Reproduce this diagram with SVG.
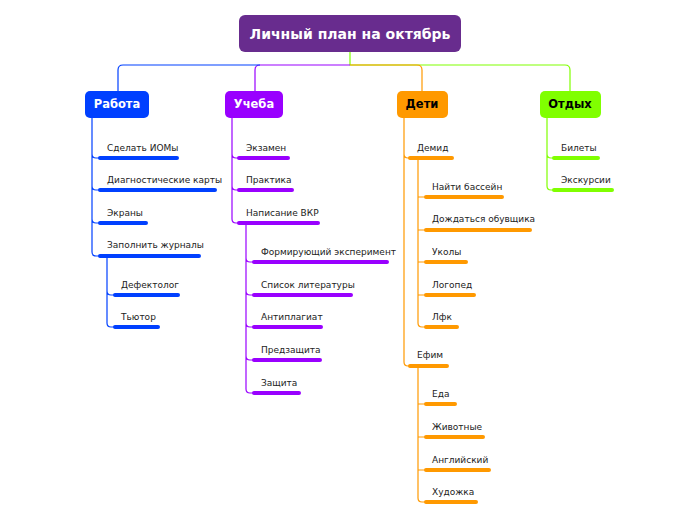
<svg xmlns="http://www.w3.org/2000/svg" width="696" height="520" viewBox="0 0 696 520">
<style>
.t{font-family:"DejaVu Sans",Verdana,sans-serif;font-size:9px;fill:#222}
.h{font-family:"DejaVu Sans",Verdana,sans-serif;font-size:11.5px;font-weight:bold;text-anchor:middle}
.c{fill:none;stroke-width:1.2}
.u{stroke-width:4;stroke-linecap:round}
.b{stroke:#0040ff}.p{stroke:#9900ff}.o{stroke:#ff9900}.g{stroke:#80ff00}
</style>
<rect width="696" height="520" fill="#fff"/>
<g id="connectors">
<path class="c g" d="M350 52V65H565Q570 65 570 70V91"/>
<path class="c o" d="M350 65H417Q422 65 422 70V91"/>
<path class="c p" d="M350 65H260Q255 65 255 70V91"/>
<path class="c b" d="M260 65H123Q118 65 118 70V91"/>
<path class="c b" d="M92 118V154Q92 158 96 158H100M92 154V186Q92 190 96 190H100M92 186V219Q92 223 96 223H100M92 219V252Q92 256 96 256H100"/>
<path class="c b" d="M107 256V291Q107 295 111 295H115M107 291V323Q107 327 111 327H115"/>
<path class="c p" d="M232 118V154Q232 158 236 158H239M232 154V186Q232 190 236 190H239M232 186V219Q232 223 236 223H239"/>
<path class="c p" d="M246 223V258Q246 262 250 262H254M246 258V291Q246 295 250 295H254M246 291V323Q246 327 250 327H254M246 323V356Q246 360 250 360H254M246 356V389Q246 393 250 393H254"/>
<path class="c o" d="M404 118V154Q404 158 408 158H410M404 154V362Q404 366 408 366H410"/>
<path class="c o" d="M418 158V197H426M418 197V230H426M418 230V262H426M418 262V295H426M418 295V323Q418 327 422 327H426"/>
<path class="c o" d="M418 366V404H426M418 404V437H426M418 437V470H426M418 470V498Q418 502 422 502H426"/>
<path class="c g" d="M547 118V154Q547 158 551 158H554M547 154V186Q547 190 551 190H554"/>
<g class="u">
<path class="b" d="M100 158H177M100 190H215M100 223H146M100 256H199M115 295H178M115 327H158"/>
<path class="p" d="M239 158H288M239 190H292M239 223H318M254 262H387M254 295H351M254 327H321M254 360H320M254 393H299"/>
<path class="o" d="M410 158H452M410 366H447M426 197H502M426 230H530M426 262H466M426 295H474M426 327H457M426 404H455M426 437H483M426 470H489M426 502H476"/>
<path class="g" d="M554 158H598M554 190H612"/>
</g>
</g>
<g id="root"><rect x="239" y="15" width="222" height="37" rx="6" fill="#682c8e"/><text class="h" x="350" y="39" fill="#fff" style="font-size:14px">Личный план на октябрь</text></g>
<g id="rabota"><rect x="85" y="91" width="64" height="27" rx="5" fill="#0040ff"/><text class="h" x="117" y="108" fill="#fff">Работа</text></g>
<g id="ucheba"><rect x="225" y="91" width="58" height="27" rx="5" fill="#9900ff"/><text class="h" x="254" y="108" fill="#fff">Учеба</text></g>
<g id="deti"><rect x="397" y="91" width="51" height="27" rx="5" fill="#ff9900"/><text class="h" x="422" y="108" fill="#000">Дети</text></g>
<g id="otdyh"><rect x="540" y="91" width="61" height="27" rx="5" fill="#80ff00"/><text class="h" x="570" y="108" fill="#000">Отдых</text></g>
<g id="leaves">
<text class="t" x="107" y="151">Сделать ИОМы</text>
<text class="t" x="107" y="183">Диагностические карты</text>
<text class="t" x="107" y="216">Экраны</text>
<text class="t" x="107" y="248">Заполнить журналы</text>
<text class="t" x="121" y="288">Дефектолог</text>
<text class="t" x="121" y="320">Тьютор</text>
<text class="t" x="246" y="151">Экзамен</text>
<text class="t" x="246" y="183">Практика</text>
<text class="t" x="246" y="216">Написание ВКР</text>
<text class="t" x="261" y="255">Формирующий эксперимент</text>
<text class="t" x="261" y="288">Список литературы</text>
<text class="t" x="261" y="320">Антиплагиат</text>
<text class="t" x="261" y="353">Предзащита</text>
<text class="t" x="261" y="386">Защита</text>
<text class="t" x="417" y="151">Демид</text>
<text class="t" x="432" y="190">Найти бассейн</text>
<text class="t" x="432" y="222">Дождаться обувщика</text>
<text class="t" x="432" y="255">Уколы</text>
<text class="t" x="432" y="288">Логопед</text>
<text class="t" x="432" y="320">Лфк</text>
<text class="t" x="417" y="358">Ефим</text>
<text class="t" x="432" y="397">Еда</text>
<text class="t" x="432" y="430">Животные</text>
<text class="t" x="432" y="463">Английский</text>
<text class="t" x="432" y="495">Художка</text>
<text class="t" x="561" y="151">Билеты</text>
<text class="t" x="561" y="183">Экскурсии</text>
</g>
</svg>
